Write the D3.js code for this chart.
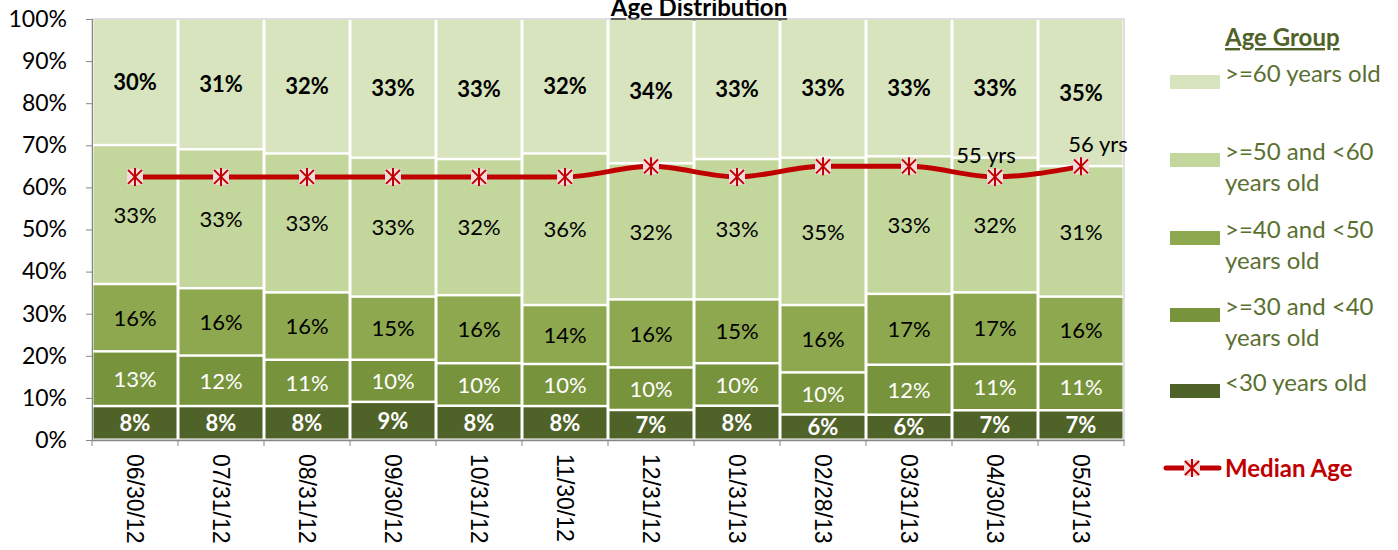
<!DOCTYPE html>
<html>
<head>
<meta charset="utf-8">
<script src="https://cdn.jsdelivr.net/npm/d3@7"></script>
<style>
  body { margin: 0; background: #fff; }
  text { font-family: Lato, "Liberation Sans", sans-serif; }
</style>
</head>
<body>
<div id="chart"></div>
<script>
const dates = ['06/30/12', '07/31/12', '08/31/12', '09/30/12', '10/31/12', '11/30/12',
  '12/31/12', '01/31/13', '02/28/13', '03/31/13', '04/30/13', '05/31/13'];
const under30 = [8, 8, 8, 9, 8, 8, 7, 8, 6, 6, 7, 7];
const age30to40 = [13, 12, 11, 10, 10, 10, 10, 10, 10, 12, 11, 11];
const age40to50 = [16, 16, 16, 15, 16, 14, 16, 15, 16, 17, 17, 16];
const age50to60 = [33, 33, 33, 33, 32, 36, 32, 33, 35, 33, 32, 31];
const over60 = [30, 31, 32, 33, 33, 32, 34, 33, 33, 33, 33, 35];
const medianAge = [55, 55, 55, 55, 55, 55, 56, 55, 56, 56, 55, 56];
const yTicks = [0, 0.1, 0.2, 0.3, 0.4, 0.5, 0.6, 0.7, 0.8, 0.9, 1];

const groups = [
  {key: 'u30', name: ['<30 years old'], values: under30, color: '#4f6228', text: '#fff', bold: true},
  {key: 'a30', name: ['>=30 and <40', 'years old'], values: age30to40, color: '#77933c', text: '#fff', bold: false},
  {key: 'a40', name: ['>=40 and <50', 'years old'], values: age40to50, color: '#8ea84f', text: '#000', bold: false},
  {key: 'a50', name: ['>=50 and <60', 'years old'], values: age50to60, color: '#c3d69b', text: '#000', bold: false},
  {key: 'o60', name: ['>=60 years old'], values: over60, color: '#d7e4bd', text: '#000', bold: true}
];

const rows = dates.map((d, i) => {
  const r = {date: d};
  groups.forEach(g => r[g.key] = g.values[i]);
  return r;
});

const margin = {top: 19, left: 92};
const width = 1032;
const height = 421;
const format = d3.format('.0%');

const svg = d3.select('#chart')
  .append('svg')
  .attr('width', 1398)
  .attr('height', 550);

// title
svg.append('text')
  .attr('x', 699)
  .attr('y', 16)
  .attr('text-anchor', 'middle')
  .attr('font-size', 24)
  .attr('font-weight', 'bold')
  .attr('text-decoration', 'underline')
  .text('Age Distribution');

const g = svg.append('g')
  .attr('transform', `translate(${margin.left}, ${margin.top})`);

const x = d3.scaleBand()
  .domain(dates)
  .range([0, width]);
const y = d3.scaleLinear()
  .domain([0, 1])
  .range([height, 0]);
const yAge = d3.scaleLinear()
  .domain([30, 70])
  .range([height, 0]);

const stack = d3.stack()
  .keys(groups.map(d => d.key))
  .offset(d3.stackOffsetExpand);
const series = stack(rows);

g.append('rect')
  .attr('width', width)
  .attr('height', height)
  .attr('fill', 'none')
  .attr('stroke', '#bfbfbf');

const layer = g.selectAll('.layer')
  .data(series)
  .join('g')
  .attr('class', 'layer')
  .attr('fill', (d, i) => groups[i].color);

layer.selectAll('rect')
  .data(d => d)
  .join('rect')
  .attr('x', d => x(d.data.date) + 1.5)
  .attr('y', d => y(d[1]) + 1)
  .attr('width', x.bandwidth() - 3)
  .attr('height', d => Math.max(0, y(d[0]) - y(d[1]) - 2.5));

layer.each(function(s, i) {
  const grp = groups[i];
  d3.select(this).selectAll('text')
    .data(s)
    .join('text')
    .attr('x', d => x(d.data.date) + x.bandwidth() / 2)
    .attr('y', d => (y(d[0]) + y(d[1])) / 2)
    .attr('dy', '0.36em')
    .attr('text-anchor', 'middle')
    .attr('font-size', 22)
    .attr('font-weight', grp.bold ? 'bold' : 'normal')
    .attr('fill', grp.text)
    .text(d => format(d.data[grp.key] / 100));
});

// axes
g.append('g')
  .call(d3.axisLeft(y).tickValues(yTicks).tickFormat(format).tickSize(6).tickPadding(19))
  .call(g => g.selectAll('line, .domain').attr('stroke', '#868686'))
  .call(g => g.selectAll('text').attr('font-size', 23).attr('fill', '#000')
    .style('font-family', 'Lato, sans-serif'));

const xAxis = g.append('g')
  .attr('transform', `translate(0, ${height})`)
  .call(d3.axisBottom(x).tickSize(0).tickSizeOuter(0))
  .call(g => g.select('.domain').attr('stroke', '#868686').attr('stroke-width', 1.5));

xAxis.selectAll('.tick text')
  .attr('transform', 'rotate(90)')
  .attr('x', 14)
  .attr('y', 0)
  .attr('dy', '0.36em')
  .attr('text-anchor', 'start')
  .attr('font-size', 23)
  .attr('fill', '#000')
  .style('font-family', '"Liberation Sans", Arial, sans-serif');

xAxis.selectAll('.sep')
  .data(d3.range(dates.length + 1))
  .join('line')
  .attr('class', 'sep')
  .attr('x1', i => i * x.step())
  .attr('x2', i => i * x.step())
  .attr('y1', 0)
  .attr('y2', 6)
  .attr('stroke', '#868686');

// median age line
const line = d3.line()
  .x((d, i) => x(dates[i]) + x.bandwidth() / 2)
  .y(d => yAge(d))
  .curve(d3.curveMonotoneX);

g.append('path')
  .datum(medianAge)
  .attr('d', line)
  .attr('fill', 'none')
  .attr('stroke', '#c00000')
  .attr('stroke-width', 5);

const marker = (sel) => {
  sel.append('rect')
    .attr('x', -8).attr('y', -8).attr('width', 16).attr('height', 16)
    .attr('fill', '#f2dcdb');
  sel.append('path')
    .attr('d', 'M-7,-7L7,7M-7,7L7,-7M0,-9L0,9')
    .attr('stroke', '#c00000')
    .attr('stroke-width', 2);
};

g.selectAll('.marker')
  .data(medianAge)
  .join('g')
  .attr('class', 'marker')
  .attr('transform', (d, i) => `translate(${x(dates[i]) + x.bandwidth() / 2}, ${yAge(d)})`)
  .call(marker);

g.selectAll('.agelabel')
  .data(medianAge.slice(-2))
  .join('text')
  .attr('class', 'agelabel')
  .attr('x', (d, i) => x(dates[dates.length - 2 + i]) + x.bandwidth() / 2 + (i ? 17 : -9))
  .attr('y', d => yAge(d) - 14)
  .attr('text-anchor', 'middle')
  .attr('font-size', 22)
  .attr('fill', '#000')
  .text(d => `${d} yrs`);

// legend
const legend = svg.append('g');
const legendColor = '#5a7030';
legend.append('text')
  .attr('x', 1225)
  .attr('y', 46)
  .attr('font-size', 24)
  .attr('font-weight', 'bold')
  .attr('fill', '#4f6228')
  .attr('text-decoration', 'underline')
  .text('Age Group');

const legendY = [82, 160, 238, 315, 391];
const legendGroups = groups.slice().reverse();
const item = legend.selectAll('.item')
  .data(legendGroups)
  .join('g')
  .attr('class', 'item')
  .attr('transform', (d, i) => `translate(0, ${legendY[i]})`);
item.append('rect')
  .attr('x', 1170)
  .attr('y', -7)
  .attr('width', 50)
  .attr('height', 14)
  .attr('fill', d => d.color);
item.append('text')
  .attr('x', 1225)
  .attr('dy', '0.36em')
  .attr('font-size', 24)
  .attr('fill', legendColor)
  .selectAll('tspan')
  .data(d => d.name)
  .join('tspan')
  .attr('x', 1225)
  .attr('dy', (d, i) => i ? 31 : 0)
  .text(d => d);

const medLegend = legend.append('g')
  .attr('transform', 'translate(0, 468)');
medLegend.append('line')
  .attr('x1', 1166).attr('x2', 1219)
  .attr('stroke', '#c00000')
  .attr('stroke-width', 5)
  .attr('stroke-linecap', 'round');
medLegend.append('g')
  .attr('transform', 'translate(1192, 0)')
  .call(marker);
medLegend.append('text')
  .attr('x', 1225)
  .attr('dy', '0.36em')
  .attr('font-size', 24)
  .attr('font-weight', 'bold')
  .attr('fill', '#c00000')
  .text('Median Age');
</script>
</body>
</html>
